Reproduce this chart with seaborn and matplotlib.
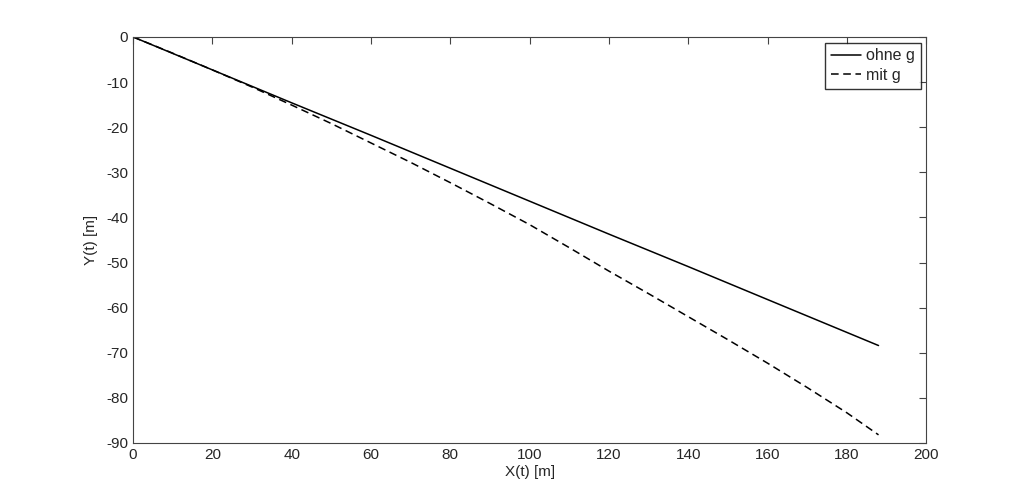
import numpy as np
import pandas as pd
import seaborn as sns
import matplotlib.pyplot as plt

# values
x_ohne = [0, 20, 40, 60, 80, 100, 120, 140, 160, 188]
y_ohne = [0, -7.3, -14.6, -21.8, -29.1, -36.4, -43.7, -50.9, -58.2, -68.4]

x_mit = [0, 10, 20, 30, 40, 50, 60, 70, 80, 90, 100, 110, 120, 130, 140, 150, 160, 170, 180, 188]
y_mit = [0, -3.6, -7.3, -11.1, -15.1, -19.2, -23.5, -27.8, -32.3, -36.9, -41.6,
         -46.7, -51.9, -56.9, -62.0, -67.1, -72.3, -77.7, -83.3, -88.2]

df = pd.concat([
    pd.DataFrame({"x": x_ohne, "y": y_ohne, "serie": "ohne g"}),
    pd.DataFrame({"x": x_mit, "y": y_mit, "serie": "mit g"}),
])

sns.set_style("white")
plt.rcParams['font.family'] = ['Liberation Sans', 'DejaVu Sans']
plt.rcParams['axes.unicode_minus'] = False

fig = plt.figure(figsize=(10.24, 4.97), dpi=100)
ax = fig.add_axes([0.130, 0.1087, 0.7744, 0.8169])

sns.lineplot(data=df, x="x", y="y", style="serie", color="black",
             dashes={"ohne g": "", "mit g": (5, 3)}, linewidth=1.1,
             sort=False, estimator=None, ax=ax)

ax.set_xlim(0, 200)
ax.set_ylim(-90, 0)
ax.set_xticks(np.arange(0, 201, 20))
ax.set_yticks(np.arange(-90, 1, 10))
ax.tick_params(direction="in", length=5, width=0.8, labelsize=11,
               top=True, right=True, color="#444444")
for s in ax.spines.values():
    s.set_visible(True)
    s.set_color("#444444")
    s.set_linewidth(0.8)

ax.set_xlabel("X(t) [m]", fontsize=11, labelpad=2)
ax.set_ylabel("Y(t) [m]", fontsize=11, labelpad=6)

handles, labels = ax.get_legend_handles_labels()
ax.legend(handles, labels, loc="upper right", fontsize=11.5, frameon=True,
          fancybox=False, edgecolor="black", handlelength=1.9,
          borderaxespad=0.35, borderpad=0.35, handletextpad=0.3,
          labelspacing=0.3)

fig.savefig("out.png", dpi=100, facecolor="white")
